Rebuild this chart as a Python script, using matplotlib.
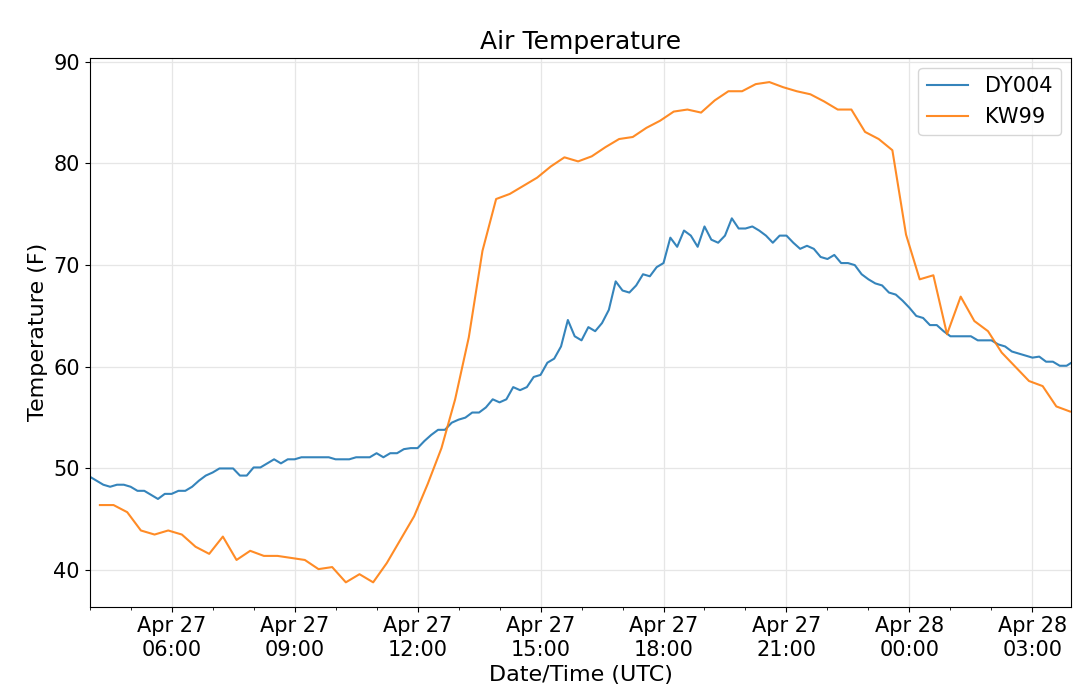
import matplotlib
matplotlib.use("Agg")
import matplotlib.pyplot as plt
import matplotlib.dates as mdates
import pandas as pd

dy004 = [49.2,48.8,48.4,48.2,48.4,48.4,
         48.2,47.8,47.8,47.4,47.0,47.5,
         47.5,47.8,47.8,48.2,48.8,49.3,
         49.6,50.0,50.0,50.0,49.3,49.3,
         50.1,50.1,50.5,50.9,50.5,50.9,
         50.9,51.1,51.1,51.1,51.1,51.1,
         50.9,50.9,50.9,51.1,51.1,51.1,
         51.5,51.1,51.5,51.5,51.9,52.0,
         52.0,52.7,53.3,53.8,53.8,54.5,
         54.8,55.0,55.5,55.5,56.0,56.8,
         56.5,56.8,58.0,57.7,58.0,59.0,
         59.2,60.4,60.8,62.0,64.6,63.0,
         62.6,63.9,63.5,64.3,65.6,68.4,
         67.5,67.3,68.0,69.1,68.9,69.8,
         70.2,72.7,71.8,73.4,72.9,71.8,
         73.8,72.5,72.2,72.9,74.6,73.6,
         73.6,73.8,73.4,72.9,72.2,72.9,
         72.9,72.2,71.6,71.9,71.6,70.8,
         70.6,71.0,70.2,70.2,70.0,69.1,
         68.6,68.2,68.0,67.3,67.1,66.5,
         65.8,65.0,64.8,64.1,64.1,63.5,
         63.0,63.0,63.0,63.0,62.6,62.6,
         62.6,62.2,62.0,61.5,61.3,61.1,
         60.9,61.0,60.5,60.5,60.1,60.1]
dy004_extra = [60.4, 60.0]
dy004 = dy004 + dy004_extra

kw99 = [46.4,46.4,45.7,43.9,43.5,43.9,43.5,42.3,41.6,43.3,41.0,41.9,
        41.4,41.4,41.2,41.0,40.1,40.3,38.8,39.6,38.8,40.7,43.0,45.3,
        48.5,52.0,56.8,62.9,71.4,76.5,77.0,77.8,78.6,79.7,80.6,80.2,
        80.7,81.6,82.4,82.6,83.5,84.2,85.1,85.3,85.0,86.2,87.1,87.1,
        87.8,88.0,87.5,87.1,86.8,86.1,85.3,85.3,83.1,82.4,81.3,73.0,
        68.6,69.0,63.2,66.9,64.5,63.5,61.4,60.0,58.6,58.1,56.1,55.6]

t_dy = pd.date_range("2019-04-27 04:00", periods=144, freq="10min")
t_dy = t_dy.append(pd.DatetimeIndex(["2019-04-28 03:57", "2019-04-28 04:00"]))
t_kw = pd.date_range("2019-04-27 04:15", periods=len(kw99), freq="20min")

plt.rcParams['font.size'] = 15
fig, ax = plt.subplots(figsize=(10.8, 6.95), dpi=100)
ax.plot(t_dy, dy004, color='#1f77b4', alpha=0.9, label='DY004')
ax.plot(t_kw, kw99, color='#ff7f0e', alpha=0.9, label='KW99')

ax.set_xlim(pd.Timestamp("2019-04-27 04:00"), pd.Timestamp("2019-04-28 03:57"))
ax.set_ylim(36.4, 90.4)
ax.xaxis.set_major_locator(mdates.HourLocator(byhour=[0, 3, 6, 9, 12, 15, 18, 21]))
ax.xaxis.set_minor_locator(mdates.HourLocator())
ax.xaxis.set_major_formatter(mdates.DateFormatter("%b %d\n%H:%M"))
for lbl in ax.get_xticklabels():
    lbl.set_ha('center')
ax.grid(True, which='major', color='#e6e6e6', linewidth=0.9)
ax.set_title("Air Temperature", fontsize=18)
ax.set_xlabel("Date/Time (UTC)", fontsize=16)
ax.set_ylabel("Temperature (F)", fontsize=16)
ax.legend(loc='upper right')
plt.subplots_adjust(left=0.083, right=0.992, top=0.917, bottom=0.127)
plt.savefig("out.png")
